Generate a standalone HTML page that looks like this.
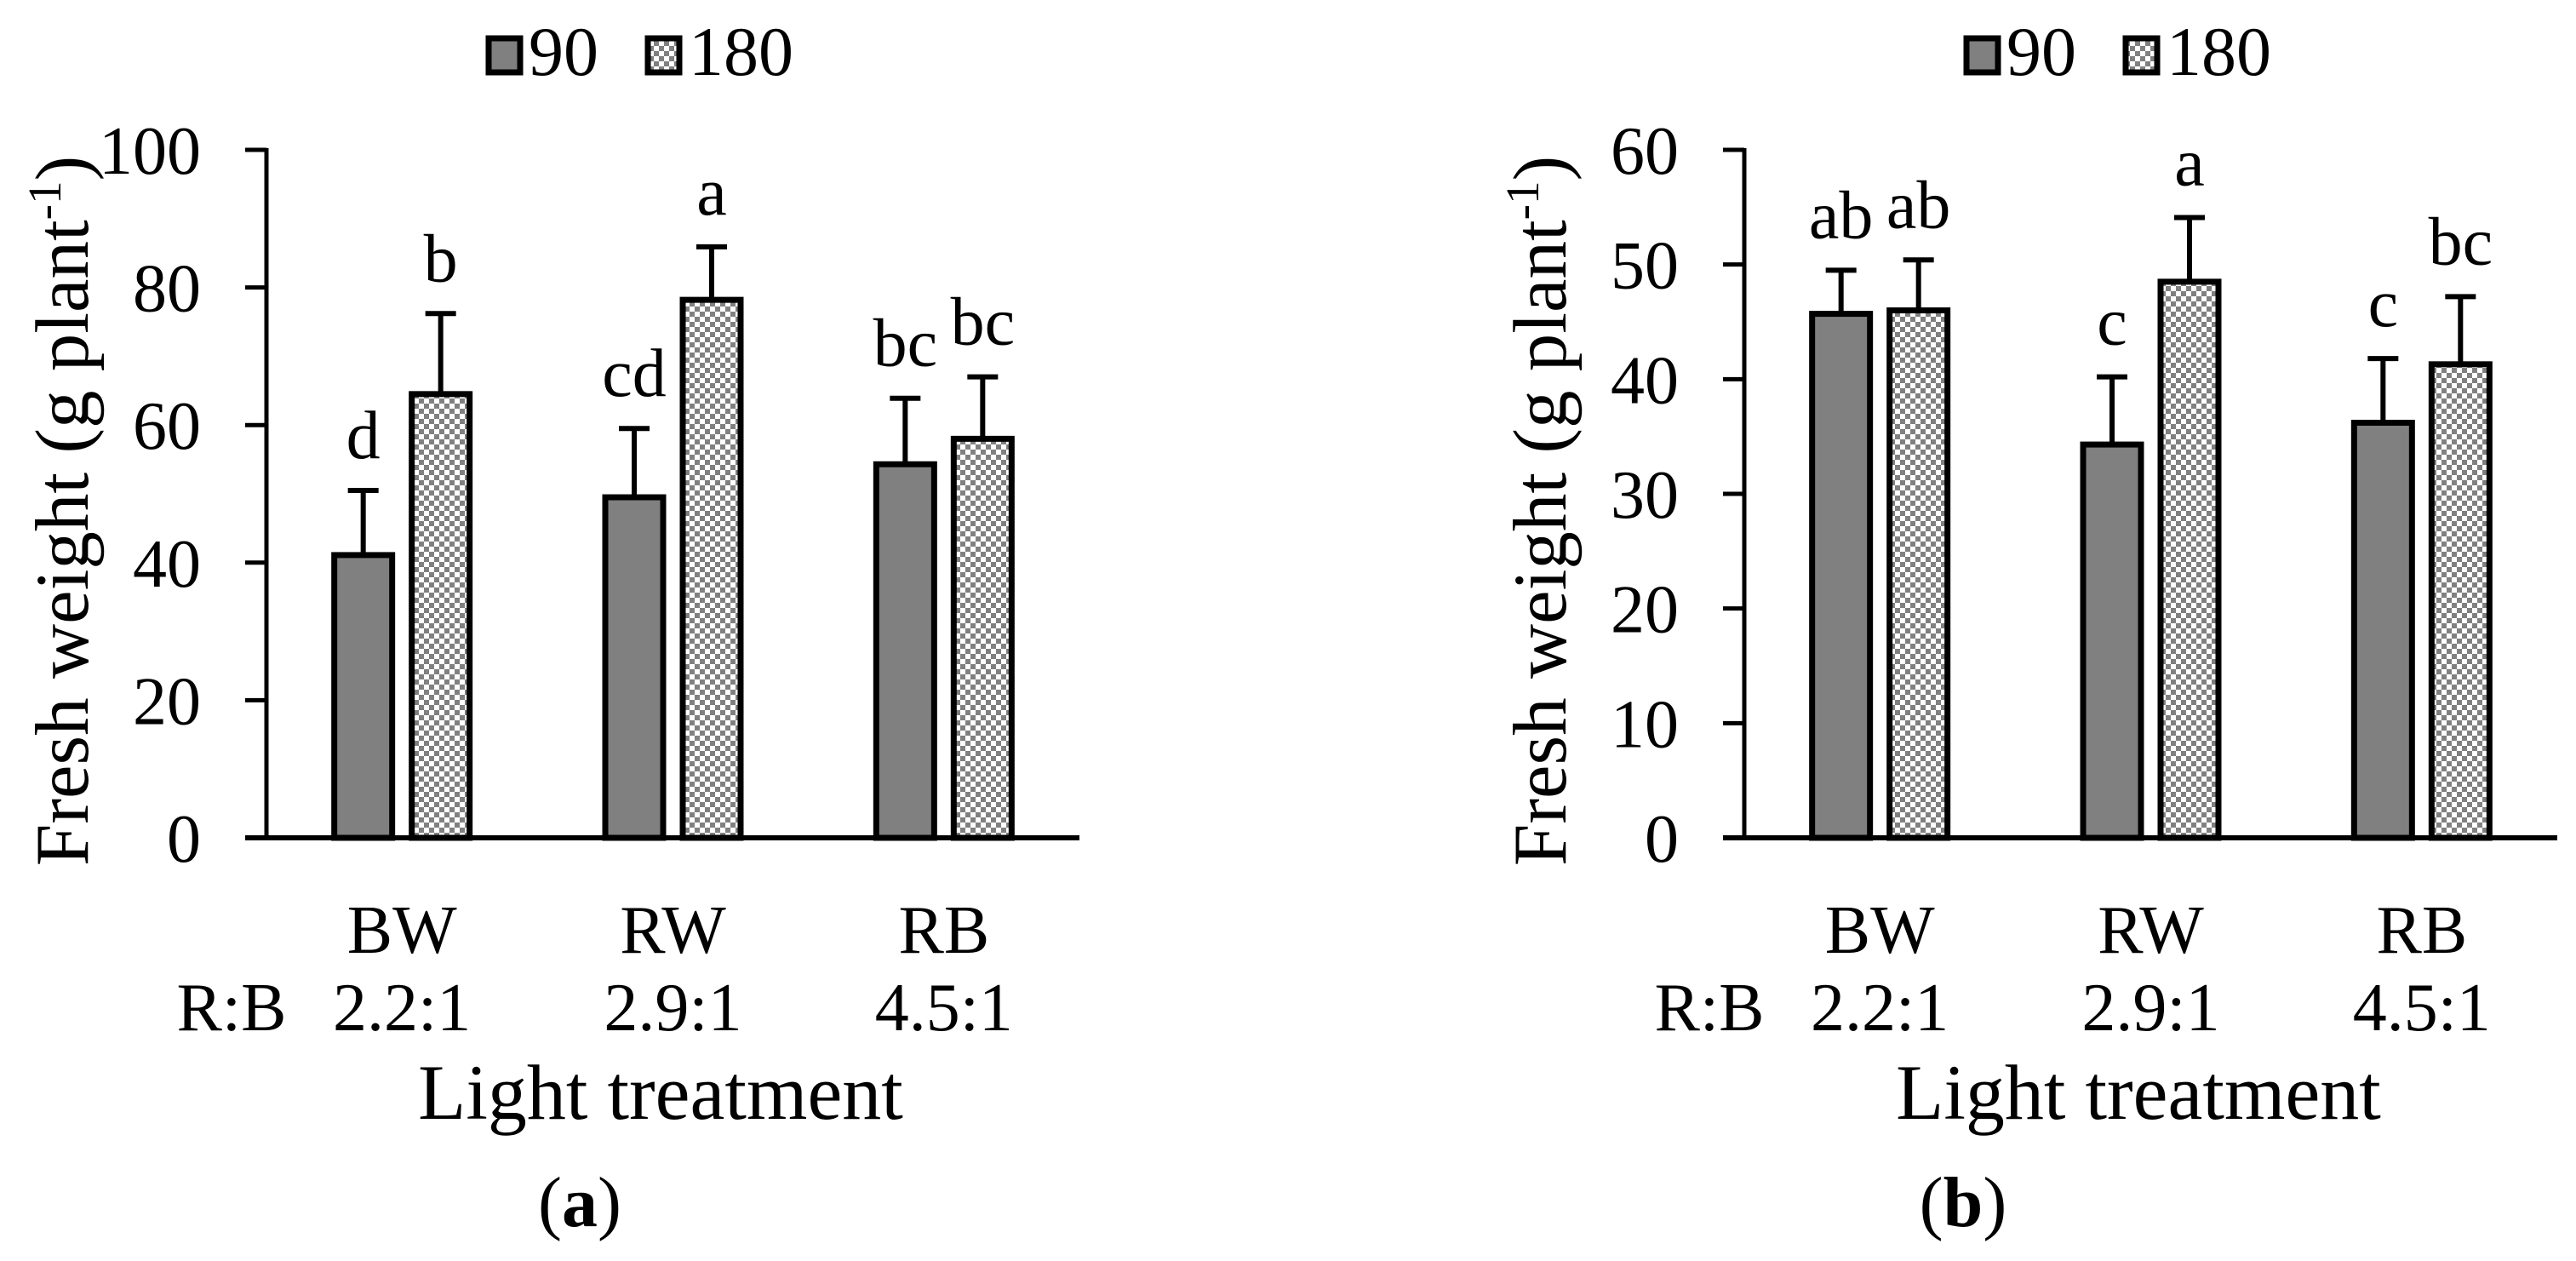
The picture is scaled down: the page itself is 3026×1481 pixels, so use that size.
<!DOCTYPE html>
<html><head><meta charset="utf-8"><style>
html,body{margin:0;padding:0;background:#fff;}
svg{display:block;font-family:"Liberation Serif",serif;}
</style></head><body>
<svg id="fig" width="3026" height="1481" viewBox="0 0 3026 1481" xmlns="http://www.w3.org/2000/svg">
<defs>
<pattern id="chk" width="12" height="12" patternUnits="userSpaceOnUse">
<rect width="12" height="12" fill="#fff"/><rect width="6" height="6" fill="#808080"/><rect x="6" y="6" width="6" height="6" fill="#808080"/>
</pattern>
</defs>
</svg>
<script>
const categories = ["BW","RW","RB"];
const ratios = ["2.2:1","2.9:1","4.5:1"];
const seriesNames = ["90","180"];
const aVals90 = [41.1, 49.5, 54.3];
const aVals180 = [64.5, 78.2, 58.0];
const aErr90 = [9.4, 10.0, 9.6];
const aErr180 = [11.7, 7.7, 9.0];
const aLetters90 = ["d","cd","bc"];
const aLetters180 = ["b","a","bc"];
const aTicks = [0,20,40,60,80,100];
const bVals90 = [45.7, 34.3, 36.2];
const bVals180 = [46.0, 48.5, 41.3];
const bErr90 = [3.8, 5.9, 5.6];
const bErr180 = [4.4, 5.6, 5.9];
const bLetters90 = ["ab","c","c"];
const bLetters180 = ["ab","a","bc"];
const bTicks = [0,10,20,30,40,50,60];

const svg = document.getElementById('fig');
const NS = 'http://www.w3.org/2000/svg';
function mk(tag, attrs, parent){
  const e = document.createElementNS(NS, tag);
  for (const k in attrs) e.setAttribute(k, attrs[k]);
  (parent||svg).appendChild(e);
  return e;
}
function txt(s, x, y, size, anchor, parent){
  const t = mk('text', {x:x, y:y, 'font-size':size, 'text-anchor':anchor||'middle', fill:'#000'}, parent);
  t.textContent = s;
  return t;
}

function panel(cfg){
  const g = mk('g', {});
  
  
  const x0 = cfg.x0, x1 = cfg.x0 + 955, y0 = 984, yTop = 176;
  const maxV = cfg.ticks[cfg.ticks.length-1];
  const yS = v => y0 - (v / maxV) * (y0 - yTop);
  const bandW = (x1 - x0) / categories.length;
  const xC = i => x0 + bandW * (i + 0.5);
  const barW = 75, gap = 16;

  const lg = mk('g', {}, g);
  
  
  const lx = cfg.x0 + 258;
  const e1 = mk('g', {}, lg);
  
  
  mk('rect', {x:lx+3, y:45, width:37, height:40, fill:'#808080', stroke:'#000', 'stroke-width':7}, e1);
  txt(seriesNames[0], lx+50, 88, 82, 'start', e1);
  const e2 = mk('g', {}, lg);
  
  
  mk('rect', {x:lx+190, y:45, width:37, height:40, fill:'url(#chk)', stroke:'#000', 'stroke-width':7}, e2);
  txt(seriesNames[1], lx+238, 88, 82, 'start', e2);

  cfg.ticks.forEach(t => {
    const y = yS(t);
    const tk = mk('line', {x1:x0-25, x2:x0, y1:y, y2:y, stroke:'#000', 'stroke-width':5}, g);
    
    
    const lb = txt(String(t), x0-77, y+28, 80, 'end', g);
    
    
  });

  const sets = [
    {vals:cfg.v90, err:cfg.e90, let:cfg.l90, fill:'#808080', off:-(gap/2+barW/2), s:'90'},
    {vals:cfg.v180, err:cfg.e180, let:cfg.l180, fill:'url(#chk)', off:(gap/2+barW/2), s:'180'}
  ];
  sets.forEach(st => {
    categories.forEach((c, i) => {
      const cx = xC(i) + st.off;
      const top = yS(st.vals[i]);
      const r = mk('rect', {x:cx-barW/2+3.5, y:top, width:barW-7, height:y0-top, fill:st.fill, stroke:'#000', 'stroke-width':7}, g);
      
      
      const et = yS(st.vals[i] + st.err[i]);
      const el = mk('path', {d:'M'+cx+' '+top+'V'+et+'M'+(cx-18)+' '+et+'H'+(cx+18), stroke:'#000', 'stroke-width':6, fill:'none'}, g);
      
      
      const lt = txt(st.let[i], cx, et-38, 80, 'middle', g);
      
      
    });
  });

  const ya = mk('line', {x1:x0, x2:x0, y1:yTop-2, y2:y0, stroke:'#000', 'stroke-width':5}, g);
  
  
  const xa = mk('line', {x1:x0-25, x2:x1, y1:y0, y2:y0, stroke:'#000', 'stroke-width':6}, g);
  
  

  categories.forEach((c, i) => {
    const a = txt(c, xC(i), 1119, 80, 'middle', g);
    
    
    const b = txt(ratios[i], xC(i), 1210, 80, 'middle', g);
    
    
  });
  const rb = txt('R:B', cfg.x0-41, 1210, 80, 'middle', g);
  
  
  const xt = txt('Light treatment', cfg.x0+463, 1314, 92, 'middle', g);
  
  

  const yt = mk('text', {x:0, y:0, 'font-size':89, 'text-anchor':'middle', fill:'#000', transform:'translate('+(cfg.x0-210)+',600) rotate(-90)'}, g);
  
  
  yt.appendChild(document.createTextNode('Fresh weight (g plant'));
  const sp = mk('tspan', {'font-size':55, dy:-32}, yt);
  sp.textContent = '-1';
  const sp2 = mk('tspan', {dy:32}, yt);
  sp2.textContent = ')';

  const pl = mk('text', {x:cfg.px, y:1440, 'font-size':84, 'text-anchor':'middle', fill:'#000'}, g);
  
  
  pl.appendChild(document.createTextNode('('));
  const bt = mk('tspan', {'font-weight':'bold'}, pl);
  bt.textContent = cfg.letter;
  pl.appendChild(document.createTextNode(')'));
}

panel({name:'panel-a', x0:313, ticks:aTicks, v90:aVals90, v180:aVals180, e90:aErr90, e180:aErr180, l90:aLetters90, l180:aLetters180, px:681, letter:'a'});
panel({name:'panel-b', x0:2049, ticks:bTicks, v90:bVals90, v180:bVals180, e90:bErr90, e180:bErr180, l90:bLetters90, l180:bLetters180, px:2306, letter:'b'});
</script>
</body></html>
